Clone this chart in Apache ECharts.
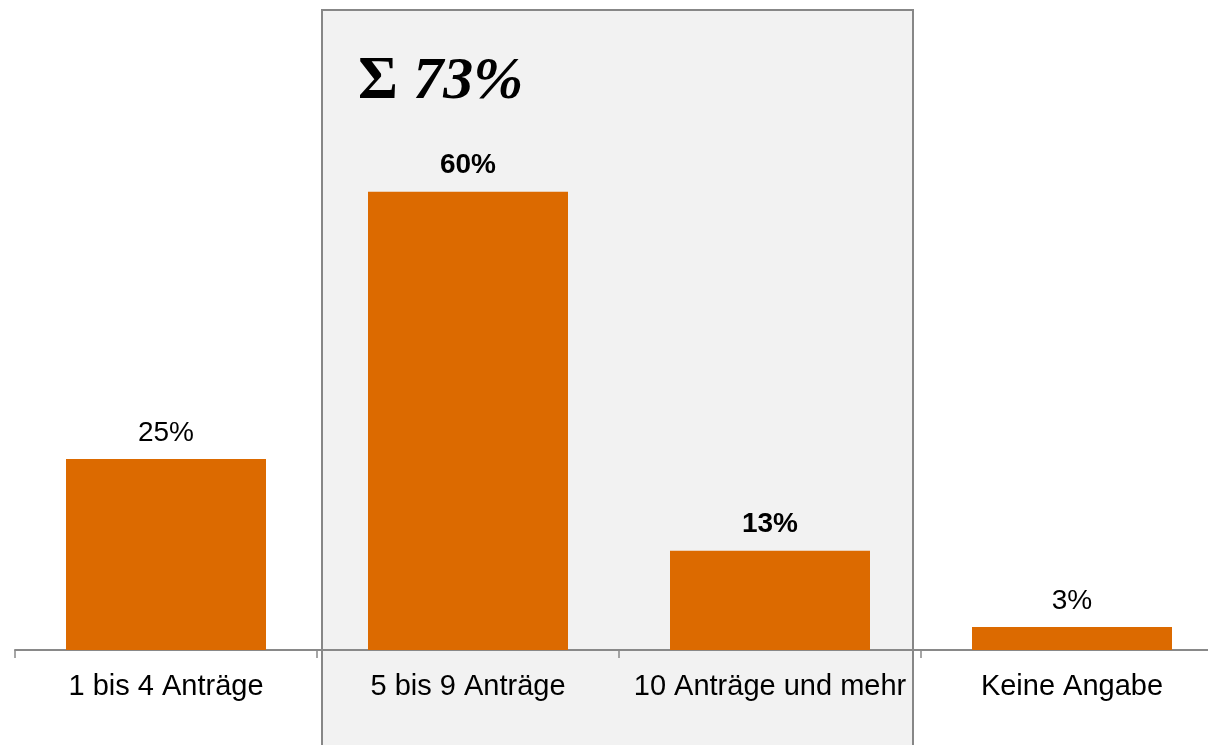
<!DOCTYPE html>
<html>
<head>
<meta charset="utf-8">
<script src="https://cdn.jsdelivr.net/npm/echarts@6/dist/echarts.min.js"></script>
<style>html,body{margin:0;padding:0;background:#fff}#c{width:1208px;height:745px}</style>
</head>
<body>
<div id="c"></div>
<script>
const categories = ['1 bis 4 Anträge', '5 bis 9 Anträge', '10 Anträge und mehr', 'Keine Angabe'];
const values = [25, 60, 13, 3];
const boldFlags = [false, true, true, false];
const sumLabel = '73%';

const chart = echarts.init(document.getElementById('c'), null, {renderer: 'canvas'});
const font = '"Liberation Sans", Arial, sans-serif';
chart.setOption({
  animation: false,
  grid: {left: 15, width: 1208, top: 39, bottom: 95, containLabel: false, outerBoundsMode: 'none'},
  graphic: [
    {type: 'rect', z: -10, shape: {x: 322, y: 10, width: 591, height: 760},
     style: {fill: '#f2f2f2', stroke: '#878787', lineWidth: 2}},
    {type: 'text', z: 10, left: 358, top: 52,
     style: {
       text: '{s|Σ }{n|' + sumLabel + '}',
       rich: {
         s: {fontFamily: '"Liberation Serif", "Times New Roman", serif', fontWeight: 'bold', fontSize: 61, fill: '#000'},
         n: {fontFamily: '"Liberation Serif", "Times New Roman", serif', fontWeight: 'bold', fontStyle: 'italic', fontSize: 60, fill: '#000'}
       }
     }}
  ],
  xAxis: {
    type: 'category', data: categories,
    axisLine: {lineStyle: {color: '#898989', width: 2}},
    axisTick: {show: true, length: 8, lineStyle: {color: '#898989', width: 1.5}},
    axisLabel: {color: '#000', fontSize: 29, fontFamily: font, margin: 22, interval: 0}
  },
  yAxis: {type: 'value', min: 0, max: 80, show: false, splitLine: {show: false}},
  series: [{
    type: 'bar',
    barWidth: 200,
    data: values.map((v, i) => ({
      value: v,
      label: {fontWeight: boldFlags[i] ? 'bold' : 'normal'}
    })),
    itemStyle: {color: '#DC6A00'},
    label: {show: true, position: 'top', distance: 12, formatter: '{c}%', color: '#000', fontSize: 28, fontFamily: font}
  }]
});
</script>
</body>
</html>
